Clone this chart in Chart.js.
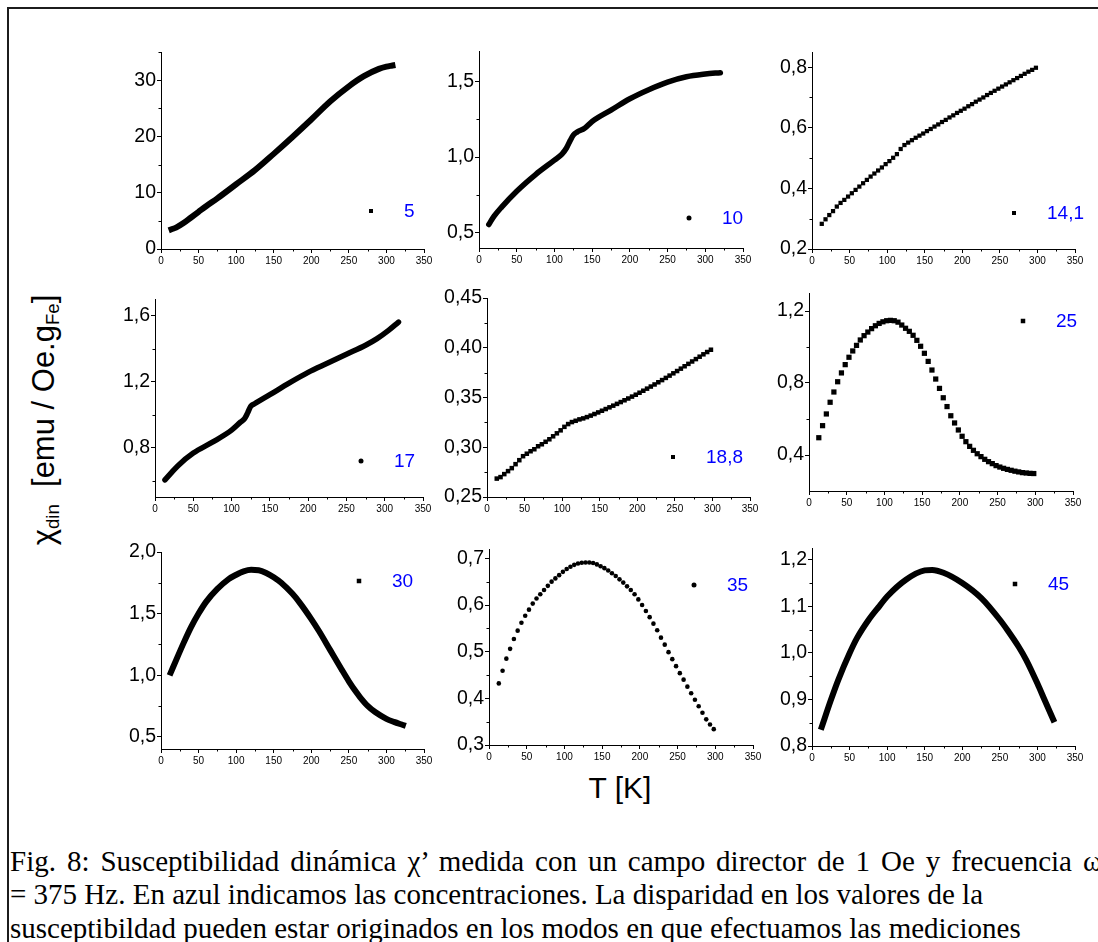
<!DOCTYPE html>
<html>
<head>
<meta charset="utf-8">
<script src="https://cdn.jsdelivr.net/npm/chart.js@4.4.1/dist/chart.umd.min.js"></script>
<style>
  html, body { margin: 0; padding: 0; background: #fff; }
  body { width: 1098px; height: 942px; position: relative; overflow: hidden;
         font-family: "Liberation Sans", Arial, sans-serif; color: #000; }
  #frameTop  { position: absolute; left: 7px; top: 7px; width: 1091px; height: 2px; background: #1c1c1c; }
  #frameLeft { position: absolute; left: 7px; top: 7px; width: 2px; height: 935px; background: #1c1c1c; }
  canvas { position: absolute; }
  #ytitle { position: absolute; left: 43px; top: 420px; transform: translate(-50%, -50%) rotate(-90deg);
            white-space: nowrap; font-size: 31px; line-height: 31px; }
  #ytitle sub { font-size: 0.6em; vertical-align: -0.32em; line-height: 0; }
  #xtitle { position: absolute; left: 620px; top: 773px; transform: translateX(-50%);
            white-space: nowrap; font-size: 30px; line-height: 30px; }
  #caption { position: absolute; left: 10px; top: 845px; width: 1092px;
             font-family: "Liberation Serif", "Times New Roman", serif; font-size: 29px; line-height: 33.4px; }
  #caption div { white-space: nowrap; }
  #caption .full { text-align: justify; text-align-last: justify; }
</style>
</head>
<body>
<div id="frameTop"></div>
<div id="frameLeft"></div>
<div id="ytitle">&chi;<sub>din</sub>&nbsp;&nbsp;[emu / Oe.g<sub>Fe</sub>]</div>
<div id="xtitle">T [K]</div>
<div id="caption">
  <div class="full">Fig. 8: Susceptibilidad dinámica &chi;’ medida con un campo director de 1 Oe y frecuencia &omega;</div>
  <div>= 375 Hz. En azul indicamos las concentraciones. La disparidad en los valores de la</div>
  <div>susceptibildad pueden estar originados en los modos en que efectuamos las mediciones</div>
</div>

<script>
// ---- Temperatures (K) of the sparser runs ----
const T_STEP = [13, 18, 23, 28, 33, 38, 43, 48, 53, 58, 63, 68, 73, 78, 83, 88, 93, 98, 103, 108,
  113, 118, 123, 128, 133, 138, 143, 148, 153, 158, 163, 168, 173, 178, 183, 188, 193, 198, 203, 208,
  213, 218, 223, 228, 233, 238, 243, 248, 253, 258, 263, 268, 273, 278, 283, 288, 293, 298];

// ---- Concentration labels ----
const CONCENTRATIONS = ['5', '10', '14,1', '17', '18,8', '25', '30', '35', '45'];

// ---- 5 ----
const T_5   = [14, 20, 30, 40, 50, 60, 75, 100, 125, 150, 175, 200, 225, 250, 270, 290, 300, 308];
const CHI_5 = [3.5, 3.8, 4.6, 5.6, 6.6, 7.6, 9.0, 11.5, 14.0, 16.9, 19.9, 23.0, 26.2, 28.9, 30.7, 32.0, 32.4, 32.6];

// ---- 10 ----
const T_10   = [13, 20, 30, 50, 75, 100, 110, 116, 121, 125, 130, 140, 150, 175, 200, 225, 250, 275, 300, 320];
const CHI_10 = [0.555, 0.61, 0.67, 0.775, 0.885, 0.98, 1.02, 1.06, 1.11, 1.145, 1.165, 1.19, 1.235, 1.31,
  1.385, 1.445, 1.495, 1.53, 1.548, 1.557];

// ---- 14,1 ----
const CHI_14 = [0.283, 0.298, 0.312, 0.325, 0.340, 0.352, 0.362, 0.373, 0.384, 0.395, 0.406, 0.417, 0.428,
  0.439, 0.449, 0.459, 0.469, 0.480, 0.490, 0.501, 0.513, 0.530, 0.543, 0.551, 0.559, 0.567, 0.574, 0.581,
  0.589, 0.596, 0.604, 0.611, 0.619, 0.626, 0.634, 0.641, 0.649, 0.656, 0.663, 0.671, 0.678, 0.686, 0.693,
  0.700, 0.708, 0.715, 0.722, 0.729, 0.736, 0.743, 0.750, 0.757, 0.764, 0.771, 0.778, 0.785, 0.791, 0.798];

// ---- 17 ----
const T_17   = [13, 20, 30, 50, 75, 100, 112, 117, 121, 125, 130, 150, 175, 200, 225, 250, 275, 290, 305, 318];
const CHI_17 = [0.604, 0.64, 0.69, 0.766, 0.832, 0.905, 0.955, 0.975, 1.01, 1.05, 1.065, 1.12, 1.19, 1.255,
  1.31, 1.365, 1.42, 1.46, 1.51, 1.56];

// ---- 18,8 ----
const CHI_18 = [0.2685, 0.270, 0.273, 0.276, 0.279, 0.283, 0.287, 0.291, 0.2935, 0.296, 0.298, 0.301, 0.303,
  0.3055, 0.308, 0.311, 0.314, 0.317, 0.3205, 0.3233, 0.3253, 0.3266, 0.328, 0.329, 0.3303, 0.3318, 0.3334,
  0.335, 0.3367, 0.3384, 0.3401, 0.3418, 0.3436, 0.3454, 0.3472, 0.349, 0.3509, 0.3528, 0.3548, 0.3568,
  0.3589, 0.361, 0.3631, 0.3653, 0.3675, 0.3697, 0.372, 0.3743, 0.3766, 0.379, 0.3814, 0.3838, 0.3862,
  0.3886, 0.391, 0.3934, 0.3957, 0.398];

// ---- 25 ----
const CHI_25 = [0.496, 0.563, 0.628, 0.693, 0.750, 0.807, 0.856, 0.902, 0.943, 0.978, 1.009, 1.039, 1.063,
  1.083, 1.102, 1.118, 1.131, 1.140, 1.146, 1.148, 1.146, 1.138, 1.122, 1.104, 1.087, 1.065, 1.037, 1.004,
  0.965, 0.920, 0.872, 0.822, 0.770, 0.718, 0.669, 0.618, 0.578, 0.539, 0.504, 0.474, 0.448, 0.426, 0.407,
  0.391, 0.376, 0.363, 0.352, 0.341, 0.333, 0.326, 0.320, 0.315, 0.310, 0.306, 0.302, 0.300, 0.298, 0.297];

// ---- 30 ----
const T_30   = [13, 20, 30, 40, 50, 60, 75, 90, 100, 110, 120, 130, 140, 150, 160, 175, 185, 200, 210, 225,
  240, 250, 260, 265, 275, 285, 300, 310, 322];
const CHI_30 = [1.02, 1.12, 1.26, 1.39, 1.50, 1.595, 1.70, 1.78, 1.815, 1.843, 1.855, 1.852, 1.83, 1.795,
  1.75, 1.66, 1.585, 1.455, 1.36, 1.205, 1.05, 0.95, 0.86, 0.82, 0.75, 0.70, 0.645, 0.62, 0.595];

// ---- 35 ----
const CHI_35 = [0.432, 0.459, 0.485, 0.506, 0.527, 0.545, 0.562, 0.577, 0.590, 0.603, 0.614, 0.623, 0.632,
  0.641, 0.650, 0.657, 0.664, 0.671, 0.677, 0.682, 0.686, 0.689, 0.6905, 0.691, 0.691, 0.690, 0.687, 0.683,
  0.679, 0.674, 0.668, 0.662, 0.655, 0.648, 0.640, 0.632, 0.623, 0.612, 0.600, 0.587, 0.574, 0.560, 0.546,
  0.530, 0.515, 0.499, 0.484, 0.469, 0.454, 0.440, 0.425, 0.411, 0.397, 0.383, 0.369, 0.355, 0.344, 0.334];

// ---- 45 ----
const T_45   = [13, 25, 35, 50, 60, 75, 90, 100, 125, 150, 160, 175, 200, 225, 250, 260, 275, 285, 300, 310, 321];
const CHI_45 = [0.841, 0.898, 0.942, 0.999, 1.032, 1.070, 1.101, 1.121, 1.157, 1.177, 1.178, 1.172, 1.150,
  1.118, 1.071, 1.049, 1.013, 0.985, 0.934, 0.897, 0.857];

// ---- Axis ticks ----
const X_MAJOR = [0, 50, 100, 150, 200, 250, 300, 350];
const X_MINOR = [25, 75, 125, 175, 225, 275, 325];
const Y_TICKS = [
  { min: 0,    max: 35,    major: [0, 10, 20, 30],                 minor: [5, 15, 25, 35],            dec: 0 },
  { min: 0.4,  max: 1.7,   major: [0.5, 1.0, 1.5],                 minor: [0.75, 1.25],               dec: 1 },
  { min: 0.2,  max: 0.85,  major: [0.2, 0.4, 0.6, 0.8],            minor: [0.3, 0.5, 0.7],            dec: 1 },
  { min: 0.5,  max: 1.7,   major: [0.8, 1.2, 1.6],                 minor: [0.6, 1.0, 1.4],            dec: 1 },
  { min: 0.25, max: 0.45,  major: [0.25, 0.30, 0.35, 0.40, 0.45],  minor: [0.275, 0.325, 0.375, 0.425], dec: 2 },
  { min: 0.2,  max: 1.3,   major: [0.4, 0.8, 1.2],                 minor: [0.6, 1.0],                 dec: 1 },
  { min: 0.4,  max: 2.0,   major: [0.5, 1.0, 1.5, 2.0],            minor: [0.75, 1.25, 1.75],         dec: 1 },
  { min: 0.3,  max: 0.72,  major: [0.3, 0.4, 0.5, 0.6, 0.7],       minor: [0.35, 0.45, 0.55, 0.65],   dec: 1 },
  { min: 0.8,  max: 1.225, major: [0.8, 0.9, 1.0, 1.1, 1.2],       minor: [0.85, 0.95, 1.05, 1.15],   dec: 1 }
];

// ---- Panel layout (plot box in page px) and marker styles ----
const SERIES = [
  { t: T_5,    chi: CHI_5,  box: [161, 52, 424, 249],  kind: 'line', cap: 'square', lw: 6, key: [210, 159, 4, 'rect'] },
  { t: T_10,   chi: CHI_10, box: [479, 51, 743, 248],  kind: 'line', cap: 'round',  lw: 5.5, key: [210, 167, 5, 'circle'] },
  { t: T_STEP, chi: CHI_14, box: [812, 52, 1075, 249], kind: 'rect', r: 3.0,               key: [202, 161, 4, 'rect'] },
  { t: T_17,   chi: CHI_17, box: [155, 299, 423, 497], kind: 'line', cap: 'round',  lw: 5.5, key: [206, 162, 5, 'circle'] },
  { t: T_STEP, chi: CHI_18, box: [487, 298, 750, 497], kind: 'rect', r: 3.2,               key: [186, 159, 4, 'rect'] },
  { t: T_STEP, chi: CHI_25, box: [809, 293, 1073, 491], kind: 'rect', r: 3.7,              key: [214, 28, 4.5, 'rect'] },
  { t: T_30,   chi: CHI_30, box: [161, 552, 424, 749], kind: 'line', cap: 'square', lw: 6, key: [198, 29, 4.5, 'rect'] },
  { t: T_STEP, chi: CHI_35, box: [489, 549, 753, 745], kind: 'circle', r: 2.3,             key: [205, 36, 5, 'circle'] },
  { t: T_45,   chi: CHI_45, box: [812, 548, 1075, 746], kind: 'line', cap: 'square', lw: 6, key: [203, 36, 4.5, 'rect'] }
];

const FONT = '"Liberation Sans", Arial, sans-serif';
const PAD_L = 72, PAD_T = 14, PAD_R = 24, PAD_B = 30;

// Short minor tick marks between the labelled ones
const minorTicks = {
  id: 'minorTicks',
  afterDraw(chart, args, opts) {
    const ctx = chart.ctx, xs = chart.scales.x, ys = chart.scales.y;
    ctx.save();
    ctx.strokeStyle = '#000';
    ctx.lineWidth = 1;
    opts.x.forEach(v => {
      const px = Math.round(xs.getPixelForValue(v)) + 0.5;
      ctx.beginPath(); ctx.moveTo(px, xs.top); ctx.lineTo(px, xs.top + 2.5); ctx.stroke();
    });
    opts.y.forEach(v => {
      const py = Math.round(ys.getPixelForValue(v)) + 0.5;
      ctx.beginPath(); ctx.moveTo(ys.right, py); ctx.lineTo(ys.right - 2.5, py); ctx.stroke();
    });
    ctx.restore();
  }
};

// Symbol sample with the concentration written in blue
const concentrationKey = {
  id: 'concentrationKey',
  afterDraw(chart, args, opts) {
    const ctx = chart.ctx, a = chart.chartArea;
    const x = a.left + opts.dx, y = a.top + opts.dy, s = opts.size;
    ctx.save();
    ctx.fillStyle = '#000';
    if (opts.shape === 'circle') {
      ctx.beginPath(); ctx.arc(x, y, s / 2, 0, Math.PI * 2); ctx.fill();
    } else {
      ctx.fillRect(x - s / 2, y - s / 2, s, s);
    }
    ctx.fillStyle = '#0000ff';
    ctx.font = '19px ' + FONT;
    ctx.textBaseline = 'middle';
    ctx.textAlign = 'left';
    ctx.fillText(opts.text, x + 33, y + 1);
    ctx.restore();
  }
};

function fmt(v, dec) {
  return v.toFixed(dec).replace('.', ',');
}

function makePanel(s, i) {
  const yt = Y_TICKS[i];
  const w = s.box[2] - s.box[0], h = s.box[3] - s.box[1];
  const cv = document.createElement('canvas');
  cv.width = w + PAD_L + PAD_R;
  cv.height = h + PAD_T + PAD_B;
  cv.style.left = (s.box[0] - PAD_L) + 'px';
  cv.style.top = (s.box[1] - PAD_T) + 'px';
  cv.style.width = cv.width + 'px';
  cv.style.height = cv.height + 'px';
  document.body.appendChild(cv);

  const ds = {
    data: s.t.map((t, k) => ({ x: t, y: s.chi[k] })),
    borderColor: '#000',
    backgroundColor: '#000'
  };
  if (s.kind === 'line') {
    Object.assign(ds, { showLine: true, pointRadius: 0, borderWidth: s.lw,
      cubicInterpolationMode: 'monotone', borderCapStyle: s.cap, borderJoinStyle: 'round' });
  } else {
    Object.assign(ds, { showLine: false, pointStyle: s.kind === 'rect' ? 'rect' : 'circle',
      pointRadius: s.r, borderWidth: 0 });
  }

  const grid = { drawOnChartArea: false, drawTicks: true, tickLength: 4, color: '#000', lineWidth: 1 };
  const border = { display: true, color: '#000', width: 1 };

  new Chart(cv, {
    type: 'scatter',
    data: { datasets: [ds] },
    options: {
      responsive: false,
      animation: false,
      devicePixelRatio: 1,
      layout: { padding: { left: 0, top: PAD_T, right: PAD_R, bottom: 0 }, autoPadding: false },
      plugins: {
        legend: { display: false },
        tooltip: { enabled: false },
        minorTicks: { x: X_MINOR, y: yt.minor },
        concentrationKey: { dx: s.key[0], dy: s.key[1], size: s.key[2], shape: s.key[3], text: CONCENTRATIONS[i] }
      },
      scales: {
        x: {
          type: 'linear', min: 0, max: 350,
          afterFit(sc) { sc.height = PAD_B; },
          afterBuildTicks(sc) { sc.ticks = X_MAJOR.map(v => ({ value: v })); },
          grid, border,
          ticks: { color: '#000', font: { family: FONT, size: 10 }, padding: 2, maxRotation: 0, autoSkip: false }
        },
        y: {
          type: 'linear', min: yt.min, max: yt.max,
          afterFit(sc) { sc.width = PAD_L; },
          afterBuildTicks(sc) { sc.ticks = yt.major.map(v => ({ value: v })); },
          grid, border,
          ticks: { color: '#000', font: { family: FONT, size: 19.5 }, padding: 1, autoSkip: false,
                   callback: v => fmt(v, yt.dec) }
        }
      }
    },
    plugins: [minorTicks, concentrationKey]
  });
}

SERIES.forEach(makePanel);
</script>
</body>
</html>
